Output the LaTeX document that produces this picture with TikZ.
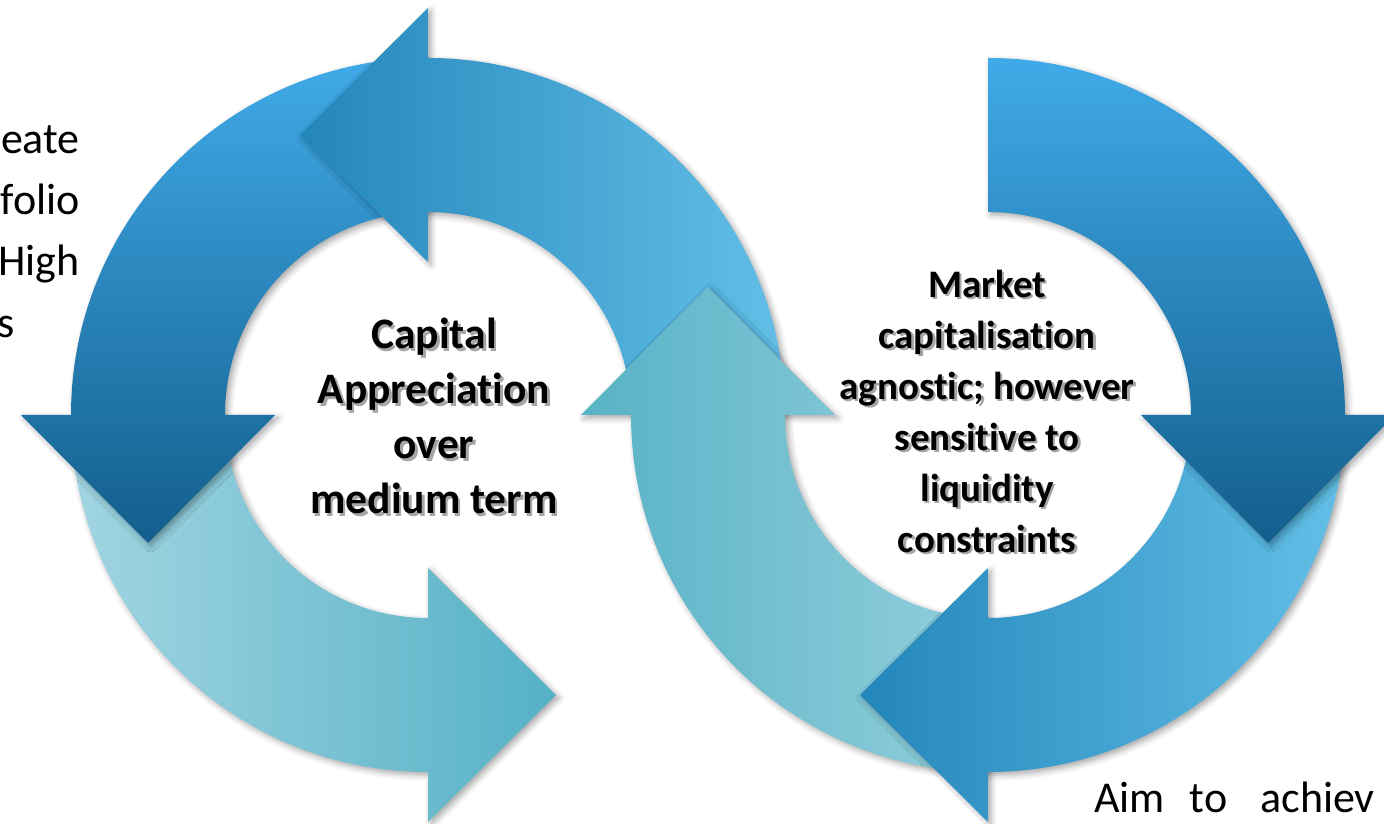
\documentclass[tikz,border=0pt]{standalone}
\usepackage{fontspec}
\setmainfont{Carlito}[Ligatures=NoCommon]
\usetikzlibrary{calc,shadows.blur}

\definecolor{skytop}{HTML}{40AAE8}
\definecolor{deepblue}{HTML}{135E8C}
\definecolor{midblue}{HTML}{2386BB}
\definecolor{paleblue}{HTML}{63BFE7}
\definecolor{paleteal}{HTML}{A2D5E2}
\definecolor{teal}{HTML}{55B1C6}
\definecolor{tealdark}{HTML}{58B2C6}
\definecolor{teallight}{HTML}{93CFDC}

% ring geometry (1pt = 1px of the layout)
\newcommand{\ringin}   {203}
\newcommand{\ringout}  {357}
\newcommand{\ringmid}  {280}
\newcommand{\headlo}   {153}
\newcommand{\headhi}   {407}
\newcommand{\headlen}  {128}
\newcommand{\shtext}[1]{\leavevmode\rlap{\kern2.5pt\raisebox{-2.5pt}[0pt][0pt]{\textcolor{black!35}{#1}}}#1}
% #1 centre, #2 start angle, #3 end angle, #4 turn of the tip, #5 shading
\newcommand{\ringarrow}[5]{%
  \shade[ringshadow,#5] ($(#1)+(#2:\ringout)$) arc[start angle=#2,end angle=#3,radius=\ringout]
    -- ($(#1)+(#3:\headhi)$) -- ($(#1)+(#3:\ringmid)+(#3#4:\headlen)$)
    -- ($(#1)+(#3:\headlo)$) -- ($(#1)+(#3:\ringin)$)
    arc[start angle=#3,end angle=#2,radius=\ringin] -- cycle;}

\begin{document}
\begin{tikzpicture}[x=1pt,y=1pt,
    ringshadow/.style={blur shadow={shadow xshift=3pt,shadow yshift=-3pt,shadow blur radius=6pt,shadow opacity=35}},
    midtext/.style={align=center,inner sep=0pt,font=\bfseries},
    sidetext/.style={inner sep=0pt,font=\fontsize{44}{61}\selectfont}]
   \useasboundingbox (0,0) rectangle (1384,824);
   \clip (0,0) rectangle (1384,824);
   \coordinate (cl) at (428,409);
   \coordinate (cr) at (988,409);
   % left ring
   \ringarrow{cl}{180}{270}{+90}{left color=paleteal,right color=teal}
   \ringarrow{cl}{90}{180}{+90}{top color=skytop,bottom color=deepblue}
   \ringarrow{cl}{0}{90}{+90}{left color=midblue,right color=paleblue}
   % right ring
   \ringarrow{cr}{270}{180}{-90}{left color=tealdark,right color=teallight}
   \ringarrow{cr}{0}{-90}{-90}{left color=midblue,right color=paleblue}
   \ringarrow{cr}{90}{0}{-90}{top color=skytop,bottom color=deepblue}
   % texts
   \node[midtext,font=\fontsize{43.5}{55}\selectfont\bfseries] (capital) at (434,408)
      {\shtext{Capital}\\\shtext{Appreciation}\\\shtext{over}\\\shtext{medium term}};
   \node[midtext,font=\fontsize{39}{51}\selectfont\bfseries] (market) at (987,413)
      {\shtext{Market}\\\shtext{capitalisation}\\\shtext{agnostic; however}\\\shtext{sensitive to}\\\shtext{liquidity}\\\shtext{constraints}};
   \node[sidetext,align=right,anchor=north east] (create) at (80,699) {eate\\folio\\High};
   \node[sidetext,anchor=base east] (ends) at (15,486) {s};
   \node[sidetext,anchor=base west] (aim) at (1094,11) {Aim\hspace{15pt} to\hspace{23pt} achiev};
\end{tikzpicture}
\end{document}
